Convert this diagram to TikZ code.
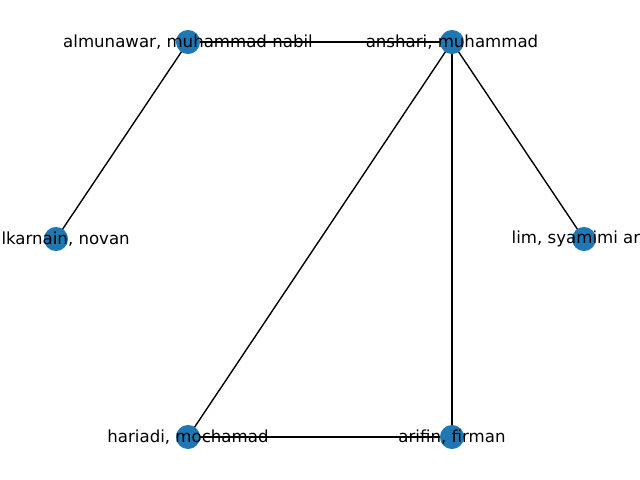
\documentclass[tikz,border=0pt]{standalone}
\usepackage{fontspec}
\setmainfont{DejaVu Sans}
\definecolor{nodeblue}{HTML}{1F77B4}
\tikzset{
  vert/.style={circle,fill=nodeblue,minimum size=17.3bp,inner sep=0pt},
  edge/.style={line width=1bp},
  lbl/.style={font=\fontsize{12}{14}\selectfont,inner sep=0pt,anchor=center}
}
\begin{document}
\begin{tikzpicture}[x=0.72bp,y=-0.72bp]
\useasboundingbox (0,0) rectangle (640,480);
\clip (0,0) rectangle (640,480);
\coordinate (alm) at (188,42);
\coordinate (ans) at (452,42);
\coordinate (zul) at (56,239);
\coordinate (lim) at (584,239);
\coordinate (har) at (188,437);
\coordinate (ari) at (452,437);
\draw[edge] (alm) -- (ans);
\draw[edge] (alm) -- (zul);
\draw[edge] (ans) -- (lim);
\draw[edge] (ans) -- (har);
\draw[edge] (ans) -- (ari);
\draw[edge] (har) -- (ari);
\foreach \v in {alm,ans,zul,lim,har,ari}
  \node[vert] (\v-dot) at (\v) {};
\node[lbl] at (alm) {almunawar, muhammad nabil};
\node[lbl] at (ans) {anshari, muhammad};
\node[lbl] at (zul) {zulkarnain, novan};
\node[lbl] at (lim) {lim, syamimi ariff};
\node[lbl] at (har) {hariadi, mochamad};
\node[lbl] at (ari) {arifin, firman};
\end{tikzpicture}
\end{document}
